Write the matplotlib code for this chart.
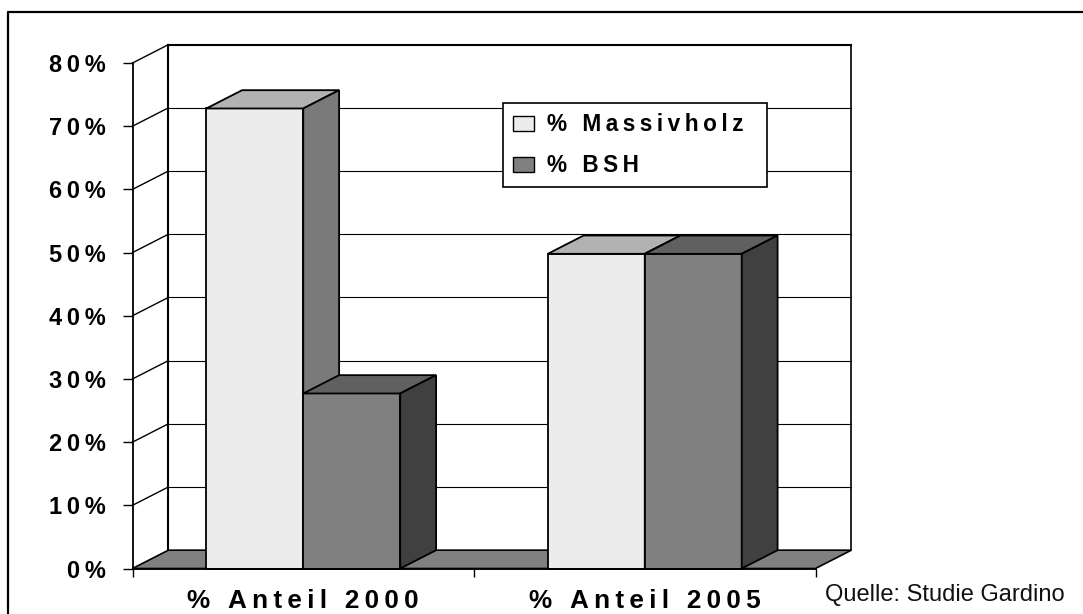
import matplotlib
matplotlib.use("Agg")
from matplotlib import pyplot as plt
from matplotlib.lines import Line2D
from matplotlib.patches import Patch, Polygon

plt.rcParams['font.family'] = ['Liberation Sans', 'DejaVu Sans']

categories = ["% Anteil 2000", "% Anteil 2005"]
massivholz = [72.8, 49.8]
bsh = [27.7, 49.8]
series_names = ["% Massivholz", "% BSH"]
y_values = [0, 10, 20, 30, 40, 50, 60, 70, 80]
y_labels = ["0%", "10%", "20%", "30%", "40%", "50%", "60%", "70%", "80%"]
source = "Quelle: Studie Gardino"

W, H = 1083, 614
# 3d look: shift of the back plane in data units
DX = 0.105
DY = 2.9
BAR_W = 0.284


def spaced(s):
    return "\u2009".join(s)


def box(ax, x, h, front, top, side):
    ax.bar(x, h, BAR_W, align="edge", color=front, edgecolor="black", lw=1.3, zorder=4, clip_on=False)
    ax.add_patch(Polygon([(x, h), (x + DX, h + DY), (x + BAR_W + DX, h + DY), (x + BAR_W, h)],
                         fc=top, ec="black", lw=1.3, zorder=4, clip_on=False))
    ax.add_patch(Polygon([(x + BAR_W, h), (x + BAR_W + DX, h + DY), (x + BAR_W + DX, DY), (x + BAR_W, 0)],
                         fc=side, ec="black", lw=1.3, zorder=4, clip_on=False))


fig = plt.figure(figsize=(W / 100, H / 100), dpi=100)
ax = fig.add_axes([132.5 / W, 1 - 568.5 / H, 683 / W, 505.5 / H])
ax.set_xlim(0, 2)
ax.set_ylim(0, 80)
ax.patch.set_visible(False)

# back wall and grid
ax.plot([DX, DX], [DY, 80 + DY], color="black", lw=1.5, clip_on=False, zorder=1)
ax.plot([2 + DX, 2 + DX], [DY, 80 + DY], color="black", lw=1.2, clip_on=False, zorder=1)
ax.plot([DX, 2 + DX], [80 + DY, 80 + DY], color="black", lw=1.5, clip_on=False, zorder=1)
for v in y_values[1:-1]:
    ax.plot([DX, 2 + DX], [v + DY, v + DY], color="black", lw=0.8, clip_on=False, zorder=1)
for v in y_values[1:]:
    ax.plot([0, DX], [v, v + DY], color="black", lw=1, clip_on=False, zorder=1)

# floor
ax.add_patch(Polygon([(0, 0), (DX, DY), (2 + DX, DY), (2, 0)], fc="#808080", ec="black", lw=1.2,
                     zorder=2, clip_on=False))

for i in range(2):
    box(ax, i + 0.5 - BAR_W, massivholz[i], "#ECECEC", "#B2B2B2", "#7A7A7A")
    box(ax, i + 0.5, bsh[i], "#808080", "#606060", "#404040")

for s in ["top", "right"]:
    ax.spines[s].set_visible(False)
for s in ["left", "bottom"]:
    ax.spines[s].set_linewidth(1.3)
    ax.spines[s].set_zorder(5)

ax.set_yticks(y_values)
ax.set_yticklabels([spaced(t) for t in y_labels], fontsize=17, fontweight="bold")
ax.tick_params(axis="y", length=7.5, width=1, pad=11.5)
ax.set_xticks([0, 1, 2])
ax.set_xticklabels([])
ax.tick_params(axis="x", length=6, width=1)
ax.set_xticks([0.5, 1.5], minor=True)
ax.set_xticklabels([spaced(c) for c in categories], minor=True, fontsize=18.8, fontweight="bold")
ax.tick_params(axis="x", which="minor", length=0, pad=15)

handles = [Patch(fc="#ECECEC", ec="black", lw=1), Patch(fc="#808080", ec="black", lw=1)]
labels = [spaced(t) for t in series_names]
labels[0] += "\u2009\u2009\u2009"
leg = ax.legend(handles, labels, loc="upper left",
                bbox_to_anchor=((503 - 132.5) / 683, (568.5 - 103) / 505.5), borderaxespad=0,
                fancybox=False, framealpha=1, edgecolor="black",
                prop={"weight": "bold", "size": 16.3}, handlelength=0.93, handleheight=0.66,
                handletextpad=0.55, labelspacing=0.8, borderpad=0.45)
leg.get_frame().set_linewidth(1.2)
leg.set_zorder(6)

# outer frame, only left and top
fig.add_artist(Line2D([7.5 / W, 7.5 / W, 1], [0, 1 - 12 / H, 1 - 12 / H], color="black", lw=1.6))
fig.text(825 / W, 1 - 595 / H, source, fontsize=17, va="center", ha="left", color="#111111")

fig.savefig("out.png", dpi=100)
